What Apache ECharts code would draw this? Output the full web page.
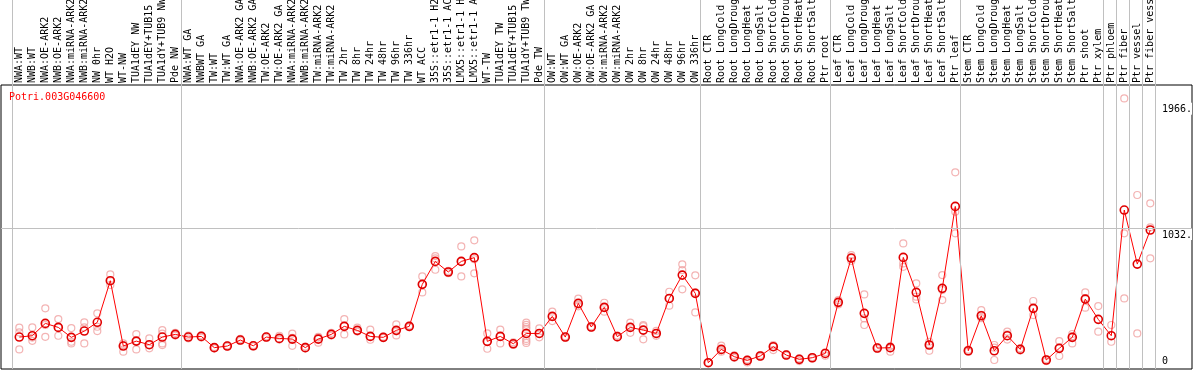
<!DOCTYPE html>
<html>
<head>
<meta charset="utf-8">
<script src="https://cdn.jsdelivr.net/npm/echarts@6/dist/echarts.min.js"></script>
<style>
  html, body { margin: 0; padding: 0; background: #fff; }
  #chart-container { width: 1194px; height: 370px; }
</style>
</head>
<body>
<div id="chart-container"></div>
<script>
const geneName = "Potri.003G046600";

const categories = [
  "NWA:WT", "NWB:WT", "NWA:OE-ARK2", "NWB:OE-ARK2", "NWA:miRNA-ARK2", "NWB:miRNA-ARK2",
  "NW 0hr", "WT H2O", "WT-NW", "TUA1dEY NW", "TUA1dEY+TUB15 NW", "TUA1dY+TUB9 NW", "Pde NW",
  "NWA:WT GA", "NWBWT GA", "TW:WT", "TW:WT GA", "NWA:OE-ARK2 GA", "NWB:OE-ARK2 GA",
  "TW:OE-ARK2", "TW:OE-ARK2 GA", "NWA:miRNA-ARK2", "NWB:miRNA-ARK2", "TW:miRNA-ARK2",
  "TW:miRNA-ARK2", "TW 2hr", "TW 8hr", "TW 24hr", "TW 48hr", "TW 96hr", "TW 336hr", "WT ACC",
  "35S::etr1-1 H2O", "35S::etr1-1 ACC", "LMX5::etr1-1 H2O", "LMX5::etr1-1 ACC", "WT-TW",
  "TUA1dEY TW", "TUA1dEY+TUB15 TW", "TUA1dY+TUB9 TW", "Pde TW",
  "OW:WT", "OW:WT GA", "OW:OE-ARK2", "OW:OE-ARK2 GA", "OW:miRNA-ARK2", "OW:miRNA-ARK2",
  "OW 2hr", "OW 8hr", "OW 24hr", "OW 48hr", "OW 96hr", "OW 336hr",
  "Root CTR", "Root LongCold", "Root LongDrought", "Root LongHeat", "Root LongSalt",
  "Root ShortCold", "Root ShortDrought", "Root ShortHeat", "Root ShortSalt", "Ptr root",
  "Leaf CTR", "Leaf LongCold", "Leaf LongDrought", "Leaf LongHeat", "Leaf LongSalt",
  "Leaf ShortCold", "Leaf ShortDrought", "Leaf ShortHeat", "Leaf ShortSalt", "Ptr leaf",
  "Stem CTR", "Stem LongCold", "Stem LongDrought", "Stem LongHeat", "Stem LongSalt",
  "Stem ShortCold", "Stem ShortDrought", "Stem ShortHeat", "Stem ShortSalt", "Ptr shoot",
  "Ptr xylem", "Ptr phloem", "Ptr fiber", "Ptr vessel", "Ptr fiber vessel"
];

// mean expression per sample
const means = [
  219, 229, 321, 291, 217, 264, 329, 639, 152, 189, 162, 219, 239,
  219, 224, 140, 152, 197, 154, 219, 209, 204, 140, 204, 239, 299,
  269, 224, 217, 269, 299, 612, 783, 704, 783, 811, 187, 224, 169,
  246, 246, 373, 219, 470, 294, 440, 222, 291, 271, 246, 507, 681,
  545, 28, 127, 73, 45, 78, 147, 85, 53, 65, 97, 478, 808, 396,
  137, 140, 813, 552, 160, 582, 1193, 117, 378, 117, 229, 127, 433,
  48, 135, 217, 502, 351, 229, 1166, 763, 1017
];

// replicate values per sample
const replicates = [
  [289, 254, 127], [291, 191, 215], [433, 309, 221], [353, 229, 291],
  [286, 184, 172], [329, 291, 172], [396, 296, 264], [686, 607, 639],
  [172, 110, 160], [241, 127, 189], [209, 135, 162], [271, 245, 172, 159],
  [250, 230, 239], [230, 210], [232, 215], [145, 135], [158, 148],
  [205, 190], [160, 150], [225, 212], [229, 200], [244, 154, 214],
  [148, 135], [215, 177, 220], [250, 230], [353, 239, 305], [290, 260],
  [275, 199, 224], [222, 212], [314, 231, 262], [305, 293], [671, 552, 612],
  [823, 721, 805], [712, 695, 704], [895, 671, 783], [940, 694, 799],
  [246, 132, 183], [275, 172, 224], [180, 160, 169],
  [326, 310, 294, 280, 205, 190, 175], [284, 217, 246], [408, 338, 373],
  [225, 213], [505, 448, 460], [300, 288], [475, 408, 440], [230, 215],
  [326, 251, 295], [309, 202, 300], [265, 228, 246], [557, 453, 510],
  [761, 718, 575], [679, 403, 553], [30, 26], [155, 110, 120], [82, 64],
  [52, 38, 30], [85, 72], [147, 122, 160], [92, 80], [60, 40], [70, 60],
  [105, 80], [495, 478, 462], [830, 808, 786], [537, 358, 309], [145, 130],
  [150, 110, 135], [917, 768, 743], [619, 520, 500], [184, 117, 165],
  [681, 495, 570], [1447, 1153, 992], [125, 110], [420, 385, 360],
  [160, 48, 140], [259, 240, 200], [135, 118], [488, 383, 430], [55, 40],
  [189, 78, 140], [242, 172, 225], [552, 438, 510], [450, 259], [309, 184],
  [1998, 992, 507], [1278, 246], [1216, 1037, 806]
];

// group separators drawn after these sample indexes (-1 = before the first one)
const groupEnds = [-1, 12, 40, 52, 62, 72, 83, 84, 85, 86, 87];

const yTicks = [1032, 1966];
const yZero = [0];
const gridValue = 1032;

const MONO = "DejaVu Sans Mono";
const xMin = -1.408, xMax = 90.21;
const yMin = -19, yMax = 2098;

var chartDom = document.getElementById("chart-container");
var myChart = echarts.init(chartDom, null, { renderer: "canvas" });

const meanData = means.map((v, i) => [i, v]);
const repData = [];
replicates.forEach((list, i) => {
  list.forEach((v) => repData.push([i, v]));
});

const sepLines = groupEnds.map((i) => ({ xAxis: i + 0.42 }));
const sepStyle = { color: "#c0c0c0", width: 1, type: "solid" };

var option = {
  animation: false,
  title: {
    text: geneName,
    left: 9,
    top: 92,
    padding: 0,
    textStyle: { color: "#ff0000", fontFamily: MONO, fontSize: 10, fontWeight: "normal" }
  },
  grid: [
    { left: 1, right: 2, top: 85, bottom: 1, show: true, borderColor: "#000", borderWidth: 1,
      outerBoundsMode: "none", containLabel: false },
    { left: 1, right: 2, top: 0, height: 85, outerBoundsMode: "none", containLabel: false }
  ],
  xAxis: [
    {
      gridIndex: 0,
      type: "value",
      min: xMin,
      max: xMax,
      position: "top",
      axisLine: { show: false },
      axisTick: { show: false },
      splitLine: { show: false },
      axisLabel: {
        customValues: categories.map((_, i) => i),
        formatter: (v) => categories[Math.round(v)],
        rotate: 90,
        margin: 2,
        fontFamily: MONO,
        fontSize: 10,
        color: "#000"
      }
    },
    { gridIndex: 1, type: "value", min: xMin, max: xMax, show: false }
  ],
  yAxis: [
    {
      gridIndex: 0,
      type: "value",
      min: yMin,
      max: yMax,
      position: "right",
      axisLine: { show: false },
      axisTick: { show: false },
      splitLine: { show: false },
      axisLabel: {
        inside: true,
        margin: 0,
        customValues: yTicks,
        formatter: (v) => v + ".",
        verticalAlign: "top",
        backgroundColor: "#fff",
        padding: [2, 0, 0, 1],
        fontFamily: MONO,
        fontSize: 10,
        color: "#000"
      }
    },
    {
      gridIndex: 0,
      type: "value",
      min: yMin,
      max: yMax,
      position: "right",
      axisLine: { show: false },
      axisTick: { show: false },
      splitLine: { show: false },
      axisLabel: {
        inside: true,
        margin: 0,
        customValues: yZero,
        formatter: (v) => String(v) + "    ",
        verticalAlign: "bottom",
        fontFamily: MONO,
        fontSize: 10,
        color: "#000"
      }
    },
    { gridIndex: 1, type: "value", min: 0, max: 1, show: false }
  ],
  series: [
    {
      name: "sep-top",
      type: "line",
      xAxisIndex: 1,
      yAxisIndex: 2,
      data: [],
      z: 1,
      markLine: { silent: true, symbol: ["none", "none"], label: { show: false }, lineStyle: sepStyle, data: sepLines }
    },
    {
      name: "sep",
      type: "line",
      xAxisIndex: 0,
      yAxisIndex: 0,
      data: [],
      z: 1,
      markLine: {
        silent: true,
        symbol: ["none", "none"],
        label: { show: false },
        lineStyle: sepStyle,
        data: sepLines.concat([{ yAxis: gridValue }])
      }
    },
    {
      name: "replicates",
      type: "scatter",
      xAxisIndex: 0,
      yAxisIndex: 0,
      data: repData,
      symbol: "circle",
      symbolSize: 7,
      z: 2,
      itemStyle: { color: "rgba(0,0,0,0)", borderColor: "#f0a0a0", borderWidth: 1.2 }
    },
    {
      name: "mean",
      type: "line",
      xAxisIndex: 0,
      yAxisIndex: 0,
      data: meanData,
      symbol: "circle",
      symbolSize: 8,
      z: 3,
      lineStyle: { color: "#ff0000", width: 1 },
      itemStyle: { color: "rgba(0,0,0,0)", borderColor: "#e00000", borderWidth: 1.6 }
    }
  ]
};

option && myChart.setOption(option);
</script>
</body>
</html>
